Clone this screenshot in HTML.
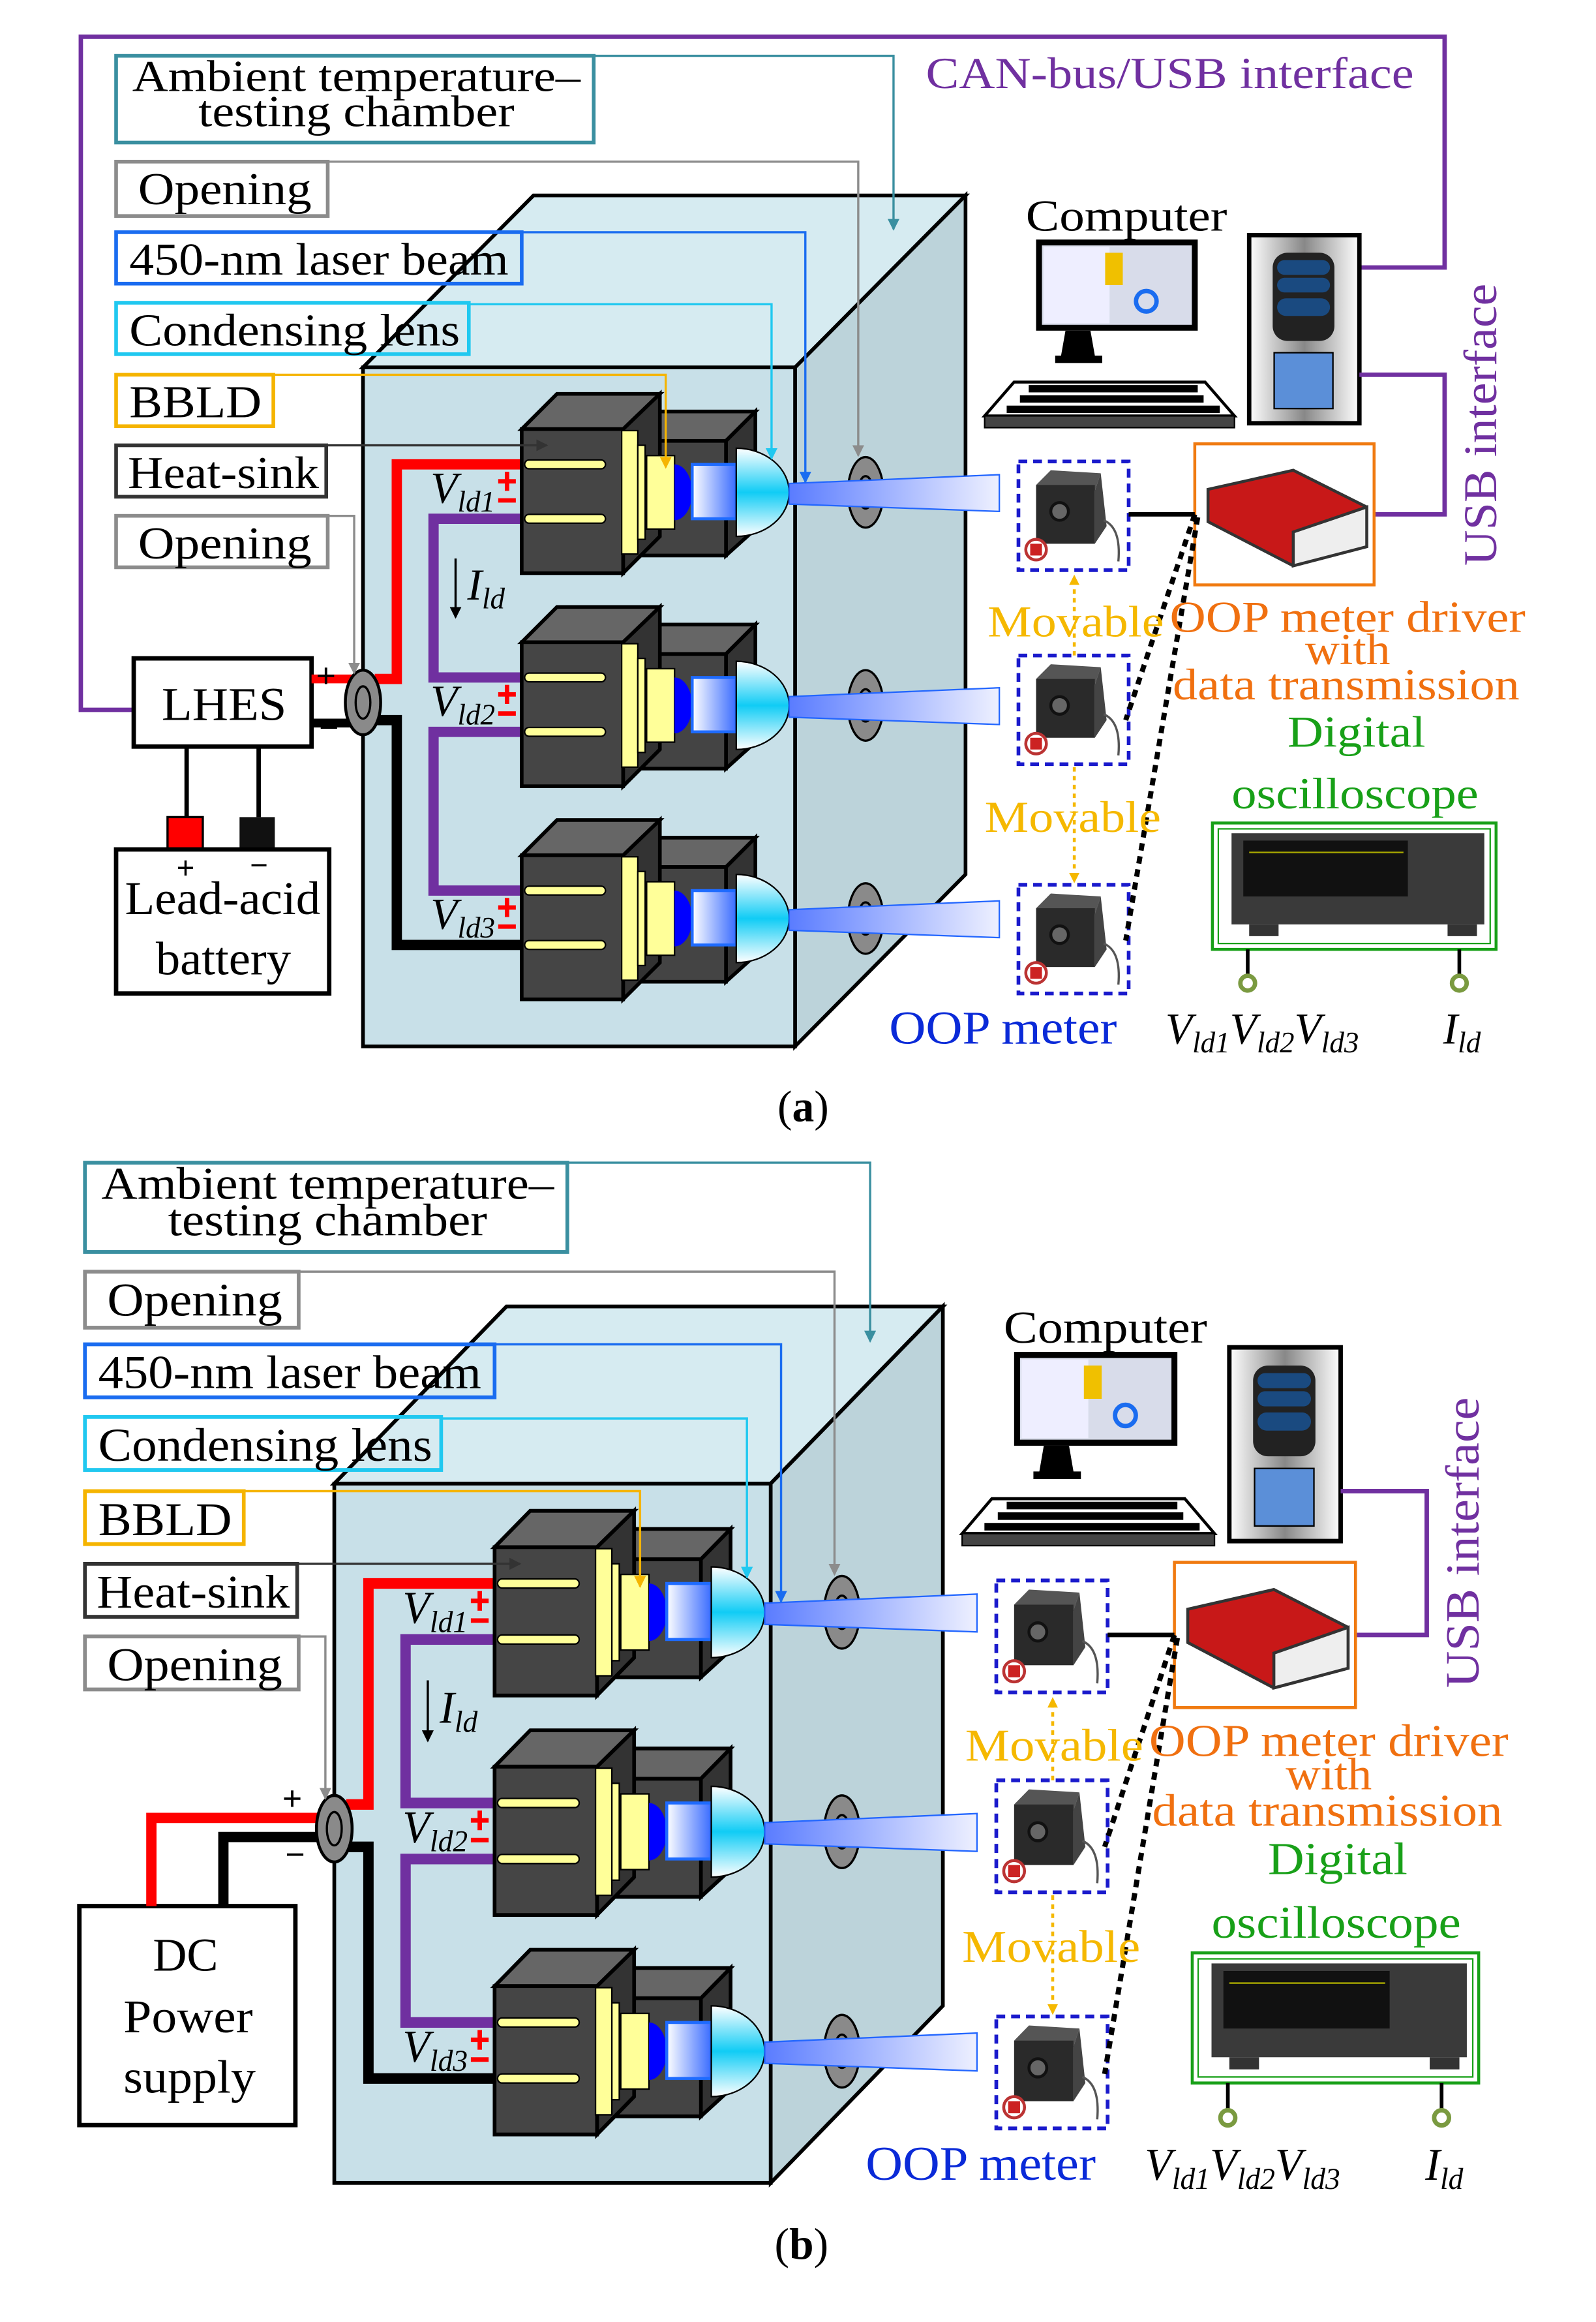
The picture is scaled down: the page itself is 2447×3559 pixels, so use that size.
<!DOCTYPE html>
<html><head><meta charset="utf-8"><style>
html,body{margin:0;padding:0;background:#fff}
svg{display:block}
text{font-family:"Liberation Serif",serif}
</style></head><body>
<svg width="2447" height="3559" viewBox="0 0 1086 1580" preserveAspectRatio="none" xmlns="http://www.w3.org/2000/svg">
<defs>
<marker id="mt" markerWidth="8" markerHeight="8" refX="7" refY="4" orient="auto" markerUnits="userSpaceOnUse"><path d="M0,0 L8,4 L0,8 Z" fill="#3a8fa0"/></marker>
<marker id="mg" markerWidth="8" markerHeight="8" refX="7" refY="4" orient="auto" markerUnits="userSpaceOnUse"><path d="M0,0 L8,4 L0,8 Z" fill="#8c8c8c"/></marker>
<marker id="mb" markerWidth="8" markerHeight="8" refX="7" refY="4" orient="auto" markerUnits="userSpaceOnUse"><path d="M0,0 L8,4 L0,8 Z" fill="#1a6cf0"/></marker>
<marker id="mc" markerWidth="8" markerHeight="8" refX="7" refY="4" orient="auto" markerUnits="userSpaceOnUse"><path d="M0,0 L8,4 L0,8 Z" fill="#20c8f0"/></marker>
<marker id="mo" markerWidth="8" markerHeight="8" refX="7" refY="4" orient="auto" markerUnits="userSpaceOnUse"><path d="M0,0 L8,4 L0,8 Z" fill="#f5b400"/></marker>
<marker id="md" markerWidth="8" markerHeight="8" refX="7" refY="4" orient="auto" markerUnits="userSpaceOnUse"><path d="M0,0 L8,4 L0,8 Z" fill="#333"/></marker>
<marker id="mk" markerWidth="8" markerHeight="8" refX="7" refY="4" orient="auto" markerUnits="userSpaceOnUse"><path d="M0,0 L8,4 L0,8 Z" fill="#000"/></marker>
<marker id="my" markerWidth="7" markerHeight="7" refX="6" refY="3.5" orient="auto" markerUnits="userSpaceOnUse"><path d="M0,0 L7,3.5 L0,7 Z" fill="#f5b800"/></marker>
<linearGradient id="gbeam" x1="0" x2="1"><stop offset="0" stop-color="#5a7cff"/><stop offset="1" stop-color="#eef0ff"/></linearGradient>
<linearGradient id="grect" x1="0" x2="1"><stop offset="0" stop-color="#fff"/><stop offset="1" stop-color="#3a6cff"/></linearGradient>
<linearGradient id="glens" x1="0" y1="0" x2="0" y2="1"><stop offset="0" stop-color="#fff"/><stop offset="0.5" stop-color="#10ccf5"/><stop offset="1" stop-color="#fff"/></linearGradient>
<linearGradient id="gtower" x1="0" x2="1"><stop offset="0" stop-color="#fff"/><stop offset="0.5" stop-color="#888"/><stop offset="1" stop-color="#fff"/></linearGradient>
<g id="mod">
<ellipse cx="589" cy="0" rx="12" ry="24" fill="#8a8a8a" stroke="#000" stroke-width="1.5"/>
<ellipse cx="589" cy="0" rx="5" ry="11" fill="none" stroke="#000" stroke-width="1.5"/>
<polygon points="424,-35 444,-55 514,-55 494,-35" fill="#666" stroke="#000" stroke-width="2.5"/>
<polygon points="494,-35 514,-55 514,25 494,43" fill="#333" stroke="#000" stroke-width="2.5"/>
<rect x="424" y="-35" width="70" height="78" fill="#444" stroke="#000" stroke-width="2.5"/>
<polygon points="355,-43 379,-67 449,-67 424,-43" fill="#666" stroke="#000" stroke-width="2.5"/>
<polygon points="424,-43 449,-67 449,30 424,55" fill="#333" stroke="#000" stroke-width="2.5"/>
<rect x="355" y="-43" width="69" height="98" fill="#454545" stroke="#000" stroke-width="2.5"/>
<rect x="357" y="-22" width="55" height="6" rx="3" fill="#ffff99" stroke="#000" stroke-width="1"/>
<rect x="357" y="15" width="55" height="6" rx="3" fill="#ffff99" stroke="#000" stroke-width="1"/>
<rect x="423" y="-42" width="11" height="84" fill="#ffff99" stroke="#000" stroke-width="1"/>
<rect x="434" y="-32" width="5" height="64" fill="#ffff99" stroke="#000" stroke-width="1"/>
<rect x="440" y="-25" width="19" height="50" fill="#ffff99" stroke="#000" stroke-width="1"/>
<path d="M459,-19 A12,19 0 0 1 459,19 Z" fill="#0000ff"/>
<rect x="471" y="-19" width="30" height="37" fill="url(#grect)" stroke="#1e6bff" stroke-width="2"/>
<path d="M501,-30 A36,30 0 0 1 501,30 Z" fill="url(#glens)" stroke="#000" stroke-width="1"/>
<polygon points="537,-6 680,-12 680,13 537,8" fill="url(#gbeam)" stroke="#2266ff" stroke-width="1"/>
</g>
<g id="meter">
<rect x="0" y="0" width="75" height="74" fill="#fff" stroke="#1a1acc" stroke-width="2.5" stroke-dasharray="6 4"/>
<polygon points="12,16 22,6 56,8 52,20" fill="#555"/>
<rect x="12" y="16" width="40" height="40" fill="#2a2a2a"/>
<polygon points="52,20 56,8 60,44 52,56" fill="#444"/>
<circle cx="28" cy="34" r="6" fill="#666" stroke="#111" stroke-width="2"/>
<path d="M58,40 Q70,45 68,68" fill="none" stroke="#555" stroke-width="1.5"/>
<circle cx="12" cy="60" r="7" fill="#fff" stroke="#b33" stroke-width="2"/>
<rect x="8" y="56" width="8" height="8" fill="#c22"/>
</g>
</defs>

<!-- ================= (a) only ================= -->
<path d="M91,483 H55 V25 H983 V182 H925" fill="none" stroke="#7030a0" stroke-width="3"/>
<text x="630" y="60" font-size="30" fill="#7030a0" textLength="332" lengthAdjust="spacingAndGlyphs">CAN-bus/USB interface</text>
<rect x="91" y="448" width="121" height="60" fill="#fff" stroke="#000" stroke-width="3"/>
<text x="110" y="490" font-size="32" textLength="85" lengthAdjust="spacingAndGlyphs">LHES</text>
<line x1="212" y1="462" x2="240" y2="462" stroke="#f00" stroke-width="6"/>
<line x1="212" y1="492" x2="240" y2="492" stroke="#000" stroke-width="6"/>
<text x="215" y="468" font-size="24" font-weight="bold">+</text>
<text x="217" y="503" font-size="24" font-weight="bold">−</text>
<line x1="127" y1="508" x2="127" y2="556" stroke="#000" stroke-width="3"/>
<line x1="176" y1="508" x2="176" y2="556" stroke="#000" stroke-width="3"/>
<rect x="114" y="556" width="24" height="22" fill="#f00" stroke="#000" stroke-width="1.5"/>
<rect x="163" y="556" width="24" height="22" fill="#111"/>
<rect x="79" y="578" width="145" height="98" fill="#fff" stroke="#000" stroke-width="3"/>
<text x="120" y="598" font-size="22" font-weight="bold">+</text>
<text x="170" y="596" font-size="22" font-weight="bold">−</text>
<text x="85" y="622" font-size="32" textLength="133" lengthAdjust="spacingAndGlyphs">Lead-acid</text>
<text x="106" y="663" font-size="32" textLength="92" lengthAdjust="spacingAndGlyphs">battery</text>
<text x="529" y="763" font-size="30">(<tspan font-weight="bold">a</tspan>)</text>

<!-- ================= (b) only ================= -->
<rect x="54" y="1297" width="147" height="149" fill="#fff" stroke="#000" stroke-width="3"/>
<text x="104" y="1341" font-size="32">DC</text>
<text x="84" y="1383" font-size="32" textLength="88" lengthAdjust="spacingAndGlyphs">Power</text>
<text x="84" y="1424" font-size="32" textLength="90" lengthAdjust="spacingAndGlyphs">supply</text>
<path d="M103,1297 V1237 H217" fill="none" stroke="#f00" stroke-width="7"/>
<path d="M152,1297 V1250 H217" fill="none" stroke="#000" stroke-width="7"/>
<text x="192" y="1232" font-size="24" font-weight="bold">+</text>
<text x="194" y="1270" font-size="24" font-weight="bold">−</text>
<text x="527" y="1537" font-size="30">(<tspan font-weight="bold">b</tspan>)</text>

<!-- ================= common part (a) ================= -->
<g>
<polygon points="247,250 363,133 657,133 541,250" fill="#d6ebf1" stroke="#000" stroke-width="2.5"/>
<polygon points="541,250 657,133 657,595 541,712" fill="#bcd3da" stroke="#000" stroke-width="2.5"/>
<rect x="247" y="250" width="294" height="462" fill="#c8e0e8" stroke="#000" stroke-width="2.5"/>
<path d="M255,462 H270 V316 H360" fill="none" stroke="#f00" stroke-width="7"/>
<path d="M255,490 H270 V643 H360" fill="none" stroke="#000" stroke-width="7"/>
<path d="M360,353 H295 V461 H360" fill="none" stroke="#7030a0" stroke-width="7"/>
<path d="M360,498 H295 V606 H360" fill="none" stroke="#7030a0" stroke-width="7"/>
<ellipse cx="247" cy="478" rx="12" ry="22" fill="#8a8a8a" stroke="#000" stroke-width="2"/>
<ellipse cx="247" cy="478" rx="5" ry="11" fill="none" stroke="#000" stroke-width="1.5"/>
<use href="#mod" transform="translate(0,335)"/>
<use href="#mod" transform="translate(0,480)"/>
<use href="#mod" transform="translate(0,625)"/>
<rect x="79" y="38" width="325" height="59" fill="none" stroke="#3a8fa0" stroke-width="2.5"/>
<text x="90" y="62" font-size="30" textLength="305" lengthAdjust="spacingAndGlyphs">Ambient temperature–</text>
<text x="135" y="86" font-size="30" textLength="215" lengthAdjust="spacingAndGlyphs">testing chamber</text>
<rect x="79" y="110" width="144" height="37" fill="none" stroke="#8c8c8c" stroke-width="2.5"/>
<text x="94" y="139" font-size="31" textLength="118" lengthAdjust="spacingAndGlyphs">Opening</text>
<rect x="79" y="158" width="276" height="35" fill="none" stroke="#1a6cf0" stroke-width="2.5"/>
<text x="88" y="187" font-size="31" textLength="258" lengthAdjust="spacingAndGlyphs">450-nm laser beam</text>
<rect x="79" y="206" width="240" height="35" fill="none" stroke="#20c8f0" stroke-width="2.5"/>
<text x="88" y="235" font-size="31" textLength="225" lengthAdjust="spacingAndGlyphs">Condensing lens</text>
<rect x="79" y="255" width="107" height="35" fill="none" stroke="#f5b400" stroke-width="2.5"/>
<text x="88" y="284" font-size="31" textLength="90" lengthAdjust="spacingAndGlyphs">BBLD</text>
<rect x="79" y="303" width="143" height="35" fill="none" stroke="#333" stroke-width="2.5"/>
<text x="87" y="332" font-size="31" textLength="130" lengthAdjust="spacingAndGlyphs">Heat-sink</text>
<rect x="79" y="351" width="144" height="35" fill="none" stroke="#8c8c8c" stroke-width="2.5"/>
<text x="94" y="380" font-size="31" textLength="118" lengthAdjust="spacingAndGlyphs">Opening</text>
<path d="M404,38 H608 V156" fill="none" stroke="#3a8fa0" stroke-width="1.5" marker-end="url(#mt)"/>
<path d="M223,110 H584 V310" fill="none" stroke="#8c8c8c" stroke-width="1.5" marker-end="url(#mg)"/>
<path d="M355,158 H548 V328" fill="none" stroke="#1a6cf0" stroke-width="1.5" marker-end="url(#mb)"/>
<path d="M319,207 H525 V312" fill="none" stroke="#20c8f0" stroke-width="1.5" marker-end="url(#mc)"/>
<path d="M186,255 H453 V318" fill="none" stroke="#f5b400" stroke-width="1.5" marker-end="url(#mo)"/>
<path d="M222,303 H372" fill="none" stroke="#333" stroke-width="1.5" marker-end="url(#md)"/>
<path d="M223,351 H241 V458" fill="none" stroke="#8c8c8c" stroke-width="1.5" marker-end="url(#mg)"/>
<text x="293" y="342" font-size="30" font-style="italic">V<tspan font-size="20" dy="6">ld1</tspan></text>
<text x="293" y="487" font-size="30" font-style="italic">V<tspan font-size="20" dy="6">ld2</tspan></text>
<text x="293" y="632" font-size="30" font-style="italic">V<tspan font-size="20" dy="6">ld3</tspan></text>
<g fill="#f00">
<rect x="339" y="326" width="12" height="3"/><rect x="343.5" y="321" width="3" height="13"/><rect x="339" y="339" width="12" height="3"/>
<rect x="339" y="471" width="12" height="3"/><rect x="343.5" y="466" width="3" height="13"/><rect x="339" y="484" width="12" height="3"/>
<rect x="339" y="616" width="12" height="3"/><rect x="343.5" y="611" width="3" height="13"/><rect x="339" y="629" width="12" height="3"/>
</g>
<line x1="310" y1="380" x2="310" y2="420" stroke="#000" stroke-width="1.5" marker-end="url(#mk)"/>
<text x="318" y="408" font-size="30" font-style="italic">I<tspan font-size="20" dy="6">ld</tspan></text>
<!-- computer -->
<text x="698" y="157" font-size="30" textLength="137" lengthAdjust="spacingAndGlyphs">Computer</text>
<rect x="705" y="163" width="110" height="62" fill="#000"/>
<rect x="709" y="167" width="102" height="54" fill="#d8dcea"/>
<rect x="710" y="168" width="45" height="52" fill="#eef"/>
<rect x="752" y="172" width="12" height="22" fill="#f0c000"/>
<circle cx="780" cy="205" r="7" fill="none" stroke="#1a6cf0" stroke-width="3"/>
<path d="M725,225 L722,242 H745 L742,225 Z M718,242 h32 v5 h-32 z" fill="#000"/>
<path d="M690,260 H820 L840,283 H670 Z" fill="#fff" stroke="#000" stroke-width="2"/>
<g fill="#000"><rect x="700" y="262" width="115" height="5"/><rect x="694" y="269" width="125" height="5"/><rect x="685" y="276" width="145" height="5"/></g>
<rect x="670" y="283" width="170" height="8" fill="#444" stroke="#000" stroke-width="1"/>
<rect x="850" y="160" width="75" height="128" fill="url(#gtower)" stroke="#000" stroke-width="3"/>
<rect x="866" y="172" width="42" height="60" rx="10" fill="#222"/>
<rect x="869" y="177" width="36" height="10" rx="5" fill="#1a4a80"/>
<rect x="869" y="189" width="36" height="10" rx="5" fill="#1a4a80"/>
<rect x="869" y="203" width="36" height="12" rx="6" fill="#1a4a80"/>
<rect x="867" y="240" width="40" height="38" fill="#5b8fd8" stroke="#000" stroke-width="1"/>
<path d="M925,255 H983 V350 H935" fill="none" stroke="#7030a0" stroke-width="3"/>
<text transform="translate(1018,385) rotate(-90)" font-size="32" fill="#7030a0" textLength="192" lengthAdjust="spacingAndGlyphs">USB interface</text>
<!-- driver -->
<rect x="813" y="302" width="122" height="96" fill="#fff" stroke="#f07a10" stroke-width="2"/>
<polygon points="822,333 880,320 930,345 930,372 880,385 822,355" fill="#c81818" stroke="#333" stroke-width="2"/>
<polygon points="880,362 930,345 930,372 880,385" fill="#eee" stroke="#333" stroke-width="2"/>
<use href="#meter" transform="translate(693,314)"/>
<use href="#meter" transform="translate(693,446)"/>
<use href="#meter" transform="translate(693,602)"/>
<line x1="768" y1="350" x2="813" y2="350" stroke="#000" stroke-width="3"/>
<line x1="813" y1="350" x2="766" y2="490" stroke="#000" stroke-width="3.5" stroke-dasharray="5 4"/>
<line x1="815" y1="352" x2="766" y2="640" stroke="#000" stroke-width="3.5" stroke-dasharray="5 4"/>
<line x1="731" y1="446" x2="731" y2="392" stroke="#f5b800" stroke-width="2" stroke-dasharray="3 3" marker-end="url(#my)"/>
<line x1="731" y1="522" x2="731" y2="600" stroke="#f5b800" stroke-width="2" stroke-dasharray="3 3" marker-end="url(#my)"/>
<text x="672" y="433" font-size="30" fill="#f5b800" textLength="120" lengthAdjust="spacingAndGlyphs">Movable</text>
<text x="670" y="566" font-size="30" fill="#f5b800" textLength="120" lengthAdjust="spacingAndGlyphs">Movable</text>
<text x="796" y="430" font-size="30" fill="#f07010" textLength="242" lengthAdjust="spacingAndGlyphs">OOP meter driver</text>
<text x="888" y="452" font-size="30" fill="#f07010" textLength="58" lengthAdjust="spacingAndGlyphs">with</text>
<text x="798" y="476" font-size="30" fill="#f07010" textLength="236" lengthAdjust="spacingAndGlyphs">data transmission</text>
<text x="876" y="508" font-size="30" fill="#18a018" textLength="94" lengthAdjust="spacingAndGlyphs">Digital</text>
<text x="838" y="550" font-size="30" fill="#18a018" textLength="168" lengthAdjust="spacingAndGlyphs">oscilloscope</text>
<rect x="825" y="560" width="193" height="86" fill="#fff" stroke="#18a018" stroke-width="2"/>
<rect x="829" y="564" width="185" height="78" fill="none" stroke="#18a018" stroke-width="1"/>
<rect x="838" y="567" width="172" height="62" fill="#3a3a3a"/>
<rect x="846" y="572" width="112" height="38" fill="#111"/>
<line x1="850" y1="580" x2="955" y2="580" stroke="#aa0" stroke-width="1"/>
<rect x="850" y="629" width="20" height="8" fill="#333"/><rect x="985" y="629" width="20" height="8" fill="#333"/>
<line x1="849" y1="646" x2="849" y2="664" stroke="#000" stroke-width="2.5"/>
<line x1="993" y1="646" x2="993" y2="664" stroke="#000" stroke-width="2.5"/>
<circle cx="849" cy="669" r="5" fill="#fff" stroke="#7a9a40" stroke-width="3"/>
<circle cx="993" cy="669" r="5" fill="#fff" stroke="#7a9a40" stroke-width="3"/>
<text x="605" y="710" font-size="32" fill="#0a2ad8" textLength="155" lengthAdjust="spacingAndGlyphs">OOP meter</text>
<text x="793" y="710" font-size="30" font-style="italic">V<tspan font-size="20" dy="6">ld1</tspan><tspan dy="-6">V</tspan><tspan font-size="20" dy="6">ld2</tspan><tspan dy="-6">V</tspan><tspan font-size="20" dy="6">ld3</tspan></text>
<text x="982" y="710" font-size="30" font-style="italic">I<tspan font-size="20" dy="6">ld</tspan></text>
</g>

<!-- ================= common part (b) ================= -->
<g transform="translate(-22,752) scale(1.01,1.03)">
<polygon points="247,250 363,133 657,133 541,250" fill="#d6ebf1" stroke="#000" stroke-width="2.5"/>
<polygon points="541,250 657,133 657,595 541,712" fill="#bcd3da" stroke="#000" stroke-width="2.5"/>
<rect x="247" y="250" width="294" height="462" fill="#c8e0e8" stroke="#000" stroke-width="2.5"/>
<path d="M255,462 H270 V316 H360" fill="none" stroke="#f00" stroke-width="7"/>
<path d="M255,490 H270 V643 H360" fill="none" stroke="#000" stroke-width="7"/>
<path d="M360,353 H295 V461 H360" fill="none" stroke="#7030a0" stroke-width="7"/>
<path d="M360,498 H295 V606 H360" fill="none" stroke="#7030a0" stroke-width="7"/>
<ellipse cx="247" cy="478" rx="12" ry="22" fill="#8a8a8a" stroke="#000" stroke-width="2"/>
<ellipse cx="247" cy="478" rx="5" ry="11" fill="none" stroke="#000" stroke-width="1.5"/>
<use href="#mod" transform="translate(0,335)"/>
<use href="#mod" transform="translate(0,480)"/>
<use href="#mod" transform="translate(0,625)"/>
<rect x="79" y="38" width="325" height="59" fill="none" stroke="#3a8fa0" stroke-width="2.5"/>
<text x="90" y="62" font-size="30" textLength="305" lengthAdjust="spacingAndGlyphs">Ambient temperature–</text>
<text x="135" y="86" font-size="30" textLength="215" lengthAdjust="spacingAndGlyphs">testing chamber</text>
<rect x="79" y="110" width="144" height="37" fill="none" stroke="#8c8c8c" stroke-width="2.5"/>
<text x="94" y="139" font-size="31" textLength="118" lengthAdjust="spacingAndGlyphs">Opening</text>
<rect x="79" y="158" width="276" height="35" fill="none" stroke="#1a6cf0" stroke-width="2.5"/>
<text x="88" y="187" font-size="31" textLength="258" lengthAdjust="spacingAndGlyphs">450-nm laser beam</text>
<rect x="79" y="206" width="240" height="35" fill="none" stroke="#20c8f0" stroke-width="2.5"/>
<text x="88" y="235" font-size="31" textLength="225" lengthAdjust="spacingAndGlyphs">Condensing lens</text>
<rect x="79" y="255" width="107" height="35" fill="none" stroke="#f5b400" stroke-width="2.5"/>
<text x="88" y="284" font-size="31" textLength="90" lengthAdjust="spacingAndGlyphs">BBLD</text>
<rect x="79" y="303" width="143" height="35" fill="none" stroke="#333" stroke-width="2.5"/>
<text x="87" y="332" font-size="31" textLength="130" lengthAdjust="spacingAndGlyphs">Heat-sink</text>
<rect x="79" y="351" width="144" height="35" fill="none" stroke="#8c8c8c" stroke-width="2.5"/>
<text x="94" y="380" font-size="31" textLength="118" lengthAdjust="spacingAndGlyphs">Opening</text>
<path d="M404,38 H608 V156" fill="none" stroke="#3a8fa0" stroke-width="1.5" marker-end="url(#mt)"/>
<path d="M223,110 H584 V310" fill="none" stroke="#8c8c8c" stroke-width="1.5" marker-end="url(#mg)"/>
<path d="M355,158 H548 V328" fill="none" stroke="#1a6cf0" stroke-width="1.5" marker-end="url(#mb)"/>
<path d="M319,207 H525 V312" fill="none" stroke="#20c8f0" stroke-width="1.5" marker-end="url(#mc)"/>
<path d="M186,255 H453 V318" fill="none" stroke="#f5b400" stroke-width="1.5" marker-end="url(#mo)"/>
<path d="M222,303 H372" fill="none" stroke="#333" stroke-width="1.5" marker-end="url(#md)"/>
<path d="M223,351 H241 V458" fill="none" stroke="#8c8c8c" stroke-width="1.5" marker-end="url(#mg)"/>
<text x="293" y="342" font-size="30" font-style="italic">V<tspan font-size="20" dy="6">ld1</tspan></text>
<text x="293" y="487" font-size="30" font-style="italic">V<tspan font-size="20" dy="6">ld2</tspan></text>
<text x="293" y="632" font-size="30" font-style="italic">V<tspan font-size="20" dy="6">ld3</tspan></text>
<g fill="#f00">
<rect x="339" y="326" width="12" height="3"/><rect x="343.5" y="321" width="3" height="13"/><rect x="339" y="339" width="12" height="3"/>
<rect x="339" y="471" width="12" height="3"/><rect x="343.5" y="466" width="3" height="13"/><rect x="339" y="484" width="12" height="3"/>
<rect x="339" y="616" width="12" height="3"/><rect x="343.5" y="611" width="3" height="13"/><rect x="339" y="629" width="12" height="3"/>
</g>
<line x1="310" y1="380" x2="310" y2="420" stroke="#000" stroke-width="1.5" marker-end="url(#mk)"/>
<text x="318" y="408" font-size="30" font-style="italic">I<tspan font-size="20" dy="6">ld</tspan></text>
<text x="698" y="157" font-size="30" textLength="137" lengthAdjust="spacingAndGlyphs">Computer</text>
<rect x="705" y="163" width="110" height="62" fill="#000"/>
<rect x="709" y="167" width="102" height="54" fill="#d8dcea"/>
<rect x="710" y="168" width="45" height="52" fill="#eef"/>
<rect x="752" y="172" width="12" height="22" fill="#f0c000"/>
<circle cx="780" cy="205" r="7" fill="none" stroke="#1a6cf0" stroke-width="3"/>
<path d="M725,225 L722,242 H745 L742,225 Z M718,242 h32 v5 h-32 z" fill="#000"/>
<path d="M690,260 H820 L840,283 H670 Z" fill="#fff" stroke="#000" stroke-width="2"/>
<g fill="#000"><rect x="700" y="262" width="115" height="5"/><rect x="694" y="269" width="125" height="5"/><rect x="685" y="276" width="145" height="5"/></g>
<rect x="670" y="283" width="170" height="8" fill="#444" stroke="#000" stroke-width="1"/>
<rect x="850" y="160" width="75" height="128" fill="url(#gtower)" stroke="#000" stroke-width="3"/>
<rect x="866" y="172" width="42" height="60" rx="10" fill="#222"/>
<rect x="869" y="177" width="36" height="10" rx="5" fill="#1a4a80"/>
<rect x="869" y="189" width="36" height="10" rx="5" fill="#1a4a80"/>
<rect x="869" y="203" width="36" height="12" rx="6" fill="#1a4a80"/>
<rect x="867" y="240" width="40" height="38" fill="#5b8fd8" stroke="#000" stroke-width="1"/>
<path d="M925,255 H983 V350 H935" fill="none" stroke="#7030a0" stroke-width="3"/>
<text transform="translate(1018,385) rotate(-90)" font-size="32" fill="#7030a0" textLength="192" lengthAdjust="spacingAndGlyphs">USB interface</text>
<rect x="813" y="302" width="122" height="96" fill="#fff" stroke="#f07a10" stroke-width="2"/>
<polygon points="822,333 880,320 930,345 930,372 880,385 822,355" fill="#c81818" stroke="#333" stroke-width="2"/>
<polygon points="880,362 930,345 930,372 880,385" fill="#eee" stroke="#333" stroke-width="2"/>
<use href="#meter" transform="translate(693,314)"/>
<use href="#meter" transform="translate(693,446)"/>
<use href="#meter" transform="translate(693,602)"/>
<line x1="768" y1="350" x2="813" y2="350" stroke="#000" stroke-width="3"/>
<line x1="813" y1="350" x2="766" y2="490" stroke="#000" stroke-width="3.5" stroke-dasharray="5 4"/>
<line x1="815" y1="352" x2="766" y2="640" stroke="#000" stroke-width="3.5" stroke-dasharray="5 4"/>
<line x1="731" y1="446" x2="731" y2="392" stroke="#f5b800" stroke-width="2" stroke-dasharray="3 3" marker-end="url(#my)"/>
<line x1="731" y1="522" x2="731" y2="600" stroke="#f5b800" stroke-width="2" stroke-dasharray="3 3" marker-end="url(#my)"/>
<text x="672" y="433" font-size="30" fill="#f5b800" textLength="120" lengthAdjust="spacingAndGlyphs">Movable</text>
<text x="670" y="566" font-size="30" fill="#f5b800" textLength="120" lengthAdjust="spacingAndGlyphs">Movable</text>
<text x="796" y="430" font-size="30" fill="#f07010" textLength="242" lengthAdjust="spacingAndGlyphs">OOP meter driver</text>
<text x="888" y="452" font-size="30" fill="#f07010" textLength="58" lengthAdjust="spacingAndGlyphs">with</text>
<text x="798" y="476" font-size="30" fill="#f07010" textLength="236" lengthAdjust="spacingAndGlyphs">data transmission</text>
<text x="876" y="508" font-size="30" fill="#18a018" textLength="94" lengthAdjust="spacingAndGlyphs">Digital</text>
<text x="838" y="550" font-size="30" fill="#18a018" textLength="168" lengthAdjust="spacingAndGlyphs">oscilloscope</text>
<rect x="825" y="560" width="193" height="86" fill="#fff" stroke="#18a018" stroke-width="2"/>
<rect x="829" y="564" width="185" height="78" fill="none" stroke="#18a018" stroke-width="1"/>
<rect x="838" y="567" width="172" height="62" fill="#3a3a3a"/>
<rect x="846" y="572" width="112" height="38" fill="#111"/>
<line x1="850" y1="580" x2="955" y2="580" stroke="#aa0" stroke-width="1"/>
<rect x="850" y="629" width="20" height="8" fill="#333"/><rect x="985" y="629" width="20" height="8" fill="#333"/>
<line x1="849" y1="646" x2="849" y2="664" stroke="#000" stroke-width="2.5"/>
<line x1="993" y1="646" x2="993" y2="664" stroke="#000" stroke-width="2.5"/>
<circle cx="849" cy="669" r="5" fill="#fff" stroke="#7a9a40" stroke-width="3"/>
<circle cx="993" cy="669" r="5" fill="#fff" stroke="#7a9a40" stroke-width="3"/>
<text x="605" y="710" font-size="32" fill="#0a2ad8" textLength="155" lengthAdjust="spacingAndGlyphs">OOP meter</text>
<text x="793" y="710" font-size="30" font-style="italic">V<tspan font-size="20" dy="6">ld1</tspan><tspan dy="-6">V</tspan><tspan font-size="20" dy="6">ld2</tspan><tspan dy="-6">V</tspan><tspan font-size="20" dy="6">ld3</tspan></text>
<text x="982" y="710" font-size="30" font-style="italic">I<tspan font-size="20" dy="6">ld</tspan></text>
</g>
</svg>
</body></html>
